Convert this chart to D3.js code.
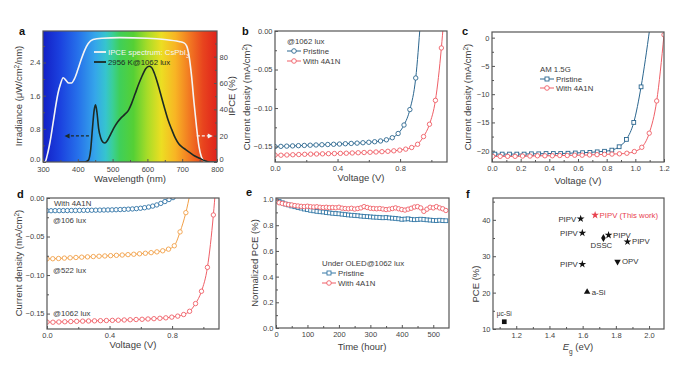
<!DOCTYPE html>
<html lang="en">
<head>
<meta charset="UTF-8">
<title>Indoor PV figure</title>
<script src="https://cdn.jsdelivr.net/npm/d3@7"></script>
<style>
	body{margin:0;background:#fff;}
	text{font-family:"Liberation Sans",Arial,sans-serif;fill:#3c3c3c;}
	.axis text{font-size:7.5px;fill:#444;}
	.axis line{stroke:#555;}
	.title{font-size:9.5px;}
	.leg{font-size:7.8px;}
	.plabel{font-size:11px;font-weight:bold;fill:#111;}
	.frame{fill:none;stroke:#555;stroke-width:1.2;}
</style>
</head>
<body>
<script>
// ---- panel a : IPCE and lamp spectrum ----
var aIpceWl = [300,306,312,320,328,335,343,350,358,366,374,382,390,400,410,420,430,444,470,520,600,650,690,705,713,720,727,734,741,748,755,762,770,800];
var aIpce   = [0,0,5,15,28,40,52,59,64,62,60,60,63,70,78,85,90,93,94,94.5,94,93,91.5,90.5,88,80,65,45,27,12,4,1,0,0];
var aSpecWl = [400,420,430,437,442,447,451,455,460,466,472,478,485,495,505,515,525,535,545,555,565,575,585,595,605,612,620,630,640,650,660,670,680,690,700,710,720,735,750,765,780,800];
var aSpec   = [0,0,0.04,0.3,0.8,1.25,1.38,1.2,0.8,0.58,0.48,0.46,0.52,0.68,0.84,0.97,1.07,1.15,1.24,1.42,1.65,1.88,2.08,2.25,2.31,2.28,2.14,1.88,1.58,1.28,1.0,0.78,0.58,0.44,0.36,0.3,0.24,0.15,0.09,0.03,0,0];

// ---- panel b / d : J-V at 1062 lux ----
var bPristineV = [0,0.0375,0.075,0.1125,0.15,0.1875,0.225,0.2625,0.3,0.3375,0.375,0.4125,0.45,0.4875,0.525,0.5625,0.6,0.6375,0.675,0.7125,0.75,0.7875,0.825,0.8625,0.9,0.93];
var bPristineJ = [-0.1500,-0.1497,-0.1494,-0.1491,-0.1488,-0.1485,-0.1482,-0.1479,-0.1476,-0.1473,-0.1470,-0.1467,-0.1463,-0.1459,-0.1455,-0.1450,-0.1444,-0.1437,-0.1427,-0.1412,-0.1385,-0.1330,-0.1220,-0.1020,-0.0610,0.012];
var bTreatedV = [0,0.038,0.076,0.114,0.152,0.19,0.228,0.266,0.304,0.342,0.38,0.418,0.456,0.494,0.532,0.57,0.608,0.646,0.684,0.722,0.76,0.798,0.836,0.874,0.912,0.95,0.988,1.026,1.064,1.078];
var bTreatedJ = [-0.1610,-0.1612,-0.1609,-0.1606,-0.1603,-0.1600,-0.1598,-0.1596,-0.1594,-0.1592,-0.1590,-0.1588,-0.1586,-0.1583,-0.1580,-0.1577,-0.1574,-0.1570,-0.1566,-0.1561,-0.1555,-0.1546,-0.1533,-0.1512,-0.1470,-0.1370,-0.1210,-0.0900,-0.0220,0.012];

// ---- panel c : J-V under AM 1.5G ----
var cPristineV = [0.02,0.071,0.122,0.173,0.224,0.275,0.326,0.377,0.428,0.479,0.53,0.581,0.632,0.683,0.734,0.785,0.836,0.887,0.938,0.989,1.04,1.1];
var cPristineJ = [-20.6,-20.6,-20.6,-20.6,-20.6,-20.55,-20.55,-20.5,-20.5,-20.5,-20.45,-20.4,-20.35,-20.3,-20.2,-20.1,-19.9,-19.3,-18.0,-15.0,-8.7,1.5];
var cTreatedV = [0.005,0.057,0.109,0.161,0.213,0.265,0.317,0.369,0.421,0.473,0.525,0.577,0.629,0.681,0.733,0.785,0.837,0.889,0.941,0.993,1.045,1.097,1.149,1.2];
var cTreatedJ = [-21.0,-21.0,-21.0,-21.0,-20.95,-20.95,-20.9,-20.9,-20.9,-20.85,-20.85,-20.8,-20.8,-20.75,-20.7,-20.65,-20.6,-20.55,-20.45,-20.15,-19.4,-16.9,-11.2,0.5];

// ---- panel d : With 4A1N at 106 and 522 lux ----
var dLowV = [0,0.026,0.052,0.078,0.104,0.13,0.156,0.182,0.208,0.234,0.26,0.286,0.312,0.338,0.364,0.39,0.416,0.442,0.468,0.494,0.52,0.546,0.572,0.598,0.624,0.65,0.676,0.702,0.728,0.754,0.78,0.806,0.832];
var dLowJ = [-0.0165,-0.0165,-0.0164,-0.0164,-0.0163,-0.0163,-0.0162,-0.0162,-0.0161,-0.0160,-0.0160,-0.0159,-0.0158,-0.0157,-0.0156,-0.0155,-0.0154,-0.0152,-0.0150,-0.0148,-0.0145,-0.0142,-0.0138,-0.0133,-0.0126,-0.0117,-0.0105,-0.0090,-0.0070,-0.0046,-0.0020,0.0005,0.004];
var dMidV = [0,0.037,0.074,0.111,0.148,0.185,0.222,0.259,0.296,0.333,0.37,0.407,0.444,0.481,0.518,0.555,0.592,0.629,0.666,0.703,0.74,0.777,0.814,0.851,0.888,0.915];
var dMidJ = [-0.0790,-0.0788,-0.0785,-0.0780,-0.0776,-0.0772,-0.0768,-0.0764,-0.0760,-0.0756,-0.0752,-0.0748,-0.0744,-0.0740,-0.0735,-0.0730,-0.0724,-0.0717,-0.0709,-0.0699,-0.0685,-0.0664,-0.0620,-0.0440,-0.0190,0.006];

// ---- panel e : stability ----
var eTime = [0,10,20,30,40,50,60,70,80,90,100,110,120,130,140,150,160,170,180,190,200,210,220,230,240,250,260,270,280,290,300,310,320,330,340,350,360,370,380,390,400,410,420,430,440,450,460,470,480,490,500,510,520,530,540];
var ePristine = [1.000,0.985,0.975,0.965,0.958,0.950,0.944,0.938,0.933,0.926,0.921,0.916,0.912,0.908,0.905,0.903,0.899,0.896,0.893,0.891,0.889,0.886,0.883,0.880,0.878,0.876,0.874,0.871,0.869,0.867,0.865,0.863,0.862,0.860,0.858,0.860,0.857,0.855,0.853,0.850,0.846,0.848,0.850,0.846,0.843,0.845,0.847,0.845,0.842,0.840,0.838,0.836,0.839,0.836,0.835];
var eTreated = [0.990,0.975,0.970,0.965,0.960,0.958,0.953,0.950,0.947,0.945,0.948,0.944,0.942,0.944,0.940,0.938,0.940,0.937,0.938,0.936,0.940,0.933,0.930,0.928,0.932,0.926,0.930,0.935,0.945,0.938,0.932,0.930,0.928,0.930,0.926,0.922,0.925,0.930,0.935,0.928,0.922,0.918,0.925,0.932,0.942,0.945,0.935,0.908,0.925,0.940,0.935,0.945,0.935,0.928,0.915];

// ---- panel f : PCE vs band gap ----
var fLabels = ['\u03bcc-Si','a-Si','PIPV','PIPV','PIPV','PIPV','PIPV','DSSC','OPV','PIPV (This work)'];
var fEg     = [1.128,1.627,1.588,1.598,1.598,1.756,1.87,1.725,1.81,1.675];
var fPce    = [12.0,20.2,40.3,36.4,27.8,35.8,34.0,35.0,28.5,41.3];
var fShape  = ['square','triangle','star','star','star','star','star','diamond','down','star'];

var colPristine = '#2b668f', colTreated = '#ef5f67', colMid = '#f2a048', colLow = '#2f73a6';

var svg = d3.select('body').append('svg').attr('width', 679).attr('height', 385);
var defs = svg.append('defs');

function makePanel(p) {
	var g = svg.append('g').attr('transform', 'translate(' + p.left + ',' + p.top + ')');
	var x = d3.scaleLinear().domain(p.xDomain).range([0, p.width]);
	var y = d3.scaleLinear().domain(p.yDomain).range([p.height, 0]);
	defs.append('clipPath').attr('id', 'clip-' + p.id)
		.append('rect').attr('width', p.width).attr('height', p.height);
	var plot = g.append('g').attr('clip-path', 'url(#clip-' + p.id + ')');

	// ticks point inward, labels sit right next to the frame
	var bx = g.append('g').attr('class', 'axis').attr('transform', 'translate(0,' + p.height + ')')
		.call(d3.axisBottom(x).tickValues(p.xTicks).tickSize(-3).tickPadding(p.xPad || 3.5).tickFormat(d3.format(p.xFmt)));
	bx.select('.domain').remove();
	var lx = g.append('g').attr('class', 'axis')
		.call(d3.axisLeft(y).tickValues(p.yTicks).tickSize(-3).tickPadding(2.5).tickFormat(d3.format(p.yFmt)));
	lx.select('.domain').remove();
	if (p.yLift) lx.selectAll('.tick text').filter(function (d) { return d === p.yDomain[0]; }).attr('dy', '-0.05em');
	if (p.xMinor) {
		g.append('g').attr('class', 'axis').attr('transform', 'translate(0,' + p.height + ')')
			.call(d3.axisBottom(x).tickValues(p.xMinor).tickSize(-2).tickFormat(''))
			.select('.domain').remove();
	}
	if (p.yMinor) {
		g.append('g').attr('class', 'axis')
			.call(d3.axisLeft(y).tickValues(p.yMinor).tickSize(-2).tickFormat(''))
			.select('.domain').remove();
	}
	g.append('rect').attr('class', 'frame').attr('width', p.width).attr('height', p.height);

	svg.append('text').attr('class', 'plabel').attr('x', p.labelX).attr('y', p.labelY).text(p.id);
	return {g: g, plot: plot, x: x, y: y};
}

function yTitle(x, y, build) {
	var t = svg.append('text').attr('class', 'title').attr('text-anchor', 'middle')
		.attr('transform', 'translate(' + x + ',' + y + ') rotate(-90)');
	build(t);
}
function xTitle(x, y, str) {
	return svg.append('text').attr('class', 'title').attr('text-anchor', 'middle').attr('x', x).attr('y', y).text(str);
}
function unitTitle(t, pre, sup, post) {
	t.append('tspan').text(pre);
	t.append('tspan').attr('baseline-shift', 'super').attr('font-size', '6.5px').text(sup);
	t.append('tspan').text(post);
}

function zip(xs, ys) { return xs.map(function (v, i) { return [v, ys[i]]; }); }

function series(panel, xs, ys, color, marker) {
	var pts = zip(xs, ys);
	var line = d3.line().curve(d3.curveMonotoneX)
		.x(function (d) { return panel.x(d[0]); })
		.y(function (d) { return panel.y(d[1]); });
	panel.plot.append('path').datum(pts).attr('d', line)
		.attr('fill', 'none').attr('stroke', color).attr('stroke-width', 1);
	var sel = panel.plot.selectAll(null).data(pts).enter();
	if (marker === 'square') {
		sel.append('rect').attr('x', function (d) { return panel.x(d[0]) - 1.9; })
			.attr('y', function (d) { return panel.y(d[1]) - 1.9; })
			.attr('width', 3.8).attr('height', 3.8)
			.attr('fill', '#fff').attr('stroke', color).attr('stroke-width', 0.9);
	} else {
		sel.append('circle').attr('cx', function (d) { return panel.x(d[0]); })
			.attr('cy', function (d) { return panel.y(d[1]); })
			.attr('r', 2.2).attr('fill', '#fff').attr('stroke', color).attr('stroke-width', 0.9);
	}
}

function legendRow(x, y, color, marker, label) {
	svg.append('line').attr('x1', x).attr('x2', x + 14).attr('y1', y).attr('y2', y)
		.attr('stroke', color).attr('stroke-width', 1);
	if (marker === 'square') {
		svg.append('rect').attr('x', x + 5).attr('y', y - 2).attr('width', 4).attr('height', 4)
			.attr('fill', '#fff').attr('stroke', color).attr('stroke-width', 0.9);
	} else {
		svg.append('circle').attr('cx', x + 7).attr('cy', y).attr('r', 2.3)
			.attr('fill', '#fff').attr('stroke', color).attr('stroke-width', 0.9);
	}
	svg.append('text').attr('class', 'leg').attr('x', x + 16).attr('y', y + 2.8).text(label);
}

// ================= panel a =================
var pa = makePanel({id: 'a', left: 43, top: 31, width: 174, height: 131,
	xDomain: [300, 800], yDomain: [0, 3.16], xPad: 5, yLift: true,
	xTicks: [300, 400, 500, 600, 700, 800], xMinor: [350, 450, 550, 650, 750], xFmt: 'd',
	yTicks: [0, 0.8, 1.6, 2.4], yMinor: [0.4, 1.2, 2.0, 2.8], yFmt: '.1f',
	labelX: 19, labelY: 35});
var aRight = d3.scaleLinear().domain([0, 99.5]).range([131, 0]);

var grad = defs.append('linearGradient').attr('id', 'spectrum').attr('x1', '0%').attr('x2', '100%');
[[0, '#1320c6'], [0.1, '#1b42df'], [0.2, '#2670ea'], [0.3, '#35a6ea'], [0.36, '#36c4cf'],
 [0.4, '#3acf98'], [0.44, '#3fcf5a'], [0.52, '#55d035'], [0.6, '#a8dc28'], [0.68, '#ecde22'],
 [0.76, '#f8b524'], [0.84, '#f27a22'], [0.92, '#e8441e'], [1, '#e0231c']].forEach(function (s) {
	grad.append('stop').attr('offset', s[0]).attr('stop-color', s[1]);
});
pa.plot.append('rect').attr('width', 174).attr('height', 131).attr('fill', 'url(#spectrum)');

pa.plot.append('path').datum(zip(aIpceWl, aIpce))
	.attr('d', d3.line().curve(d3.curveMonotoneX).x(function (d) { return pa.x(d[0]); }).y(function (d) { return aRight(d[1]); }))
	.attr('fill', 'none').attr('stroke', '#f4f4f4').attr('stroke-width', 1.6);
pa.plot.append('path').datum(zip(aSpecWl, aSpec))
	.attr('d', d3.line().curve(d3.curveMonotoneX).x(function (d) { return pa.x(d[0]); }).y(function (d) { return pa.y(d[1]); }))
	.attr('fill', 'none').attr('stroke', '#1c2a24').attr('stroke-width', 1.6);

// dashed arrows pointing to each axis
var arrowL = {from: [432, 0.63], to: [362, 0.63]};
var arrowR = {from: [742, 0.63], to: [788, 0.63]};
[[arrowL, '#1c2a24'], [arrowR, '#f4f4f4']].forEach(function (a) {
	var x1 = pa.x(a[0].from[0]), x2 = pa.x(a[0].to[0]), yy = pa.y(a[0].from[1]);
	var dir = x2 < x1 ? 1 : -1;
	pa.plot.append('line').attr('x1', x1).attr('x2', x2 + dir * 4).attr('y1', yy).attr('y2', yy)
		.attr('stroke', a[1]).attr('stroke-width', 1.4).attr('stroke-dasharray', '3,2');
	pa.plot.append('path').attr('d', 'M' + x2 + ',' + yy + 'L' + (x2 + dir * 5) + ',' + (yy - 2.5) + 'L' + (x2 + dir * 5) + ',' + (yy + 2.5) + 'Z')
		.attr('fill', a[1]);
});

var ra = pa.g.append('g').attr('class', 'axis').attr('transform', 'translate(174,0)')
	.call(d3.axisRight(aRight).tickValues([0, 20, 40, 60, 80]).tickSize(-3).tickPadding(2.5).tickFormat(d3.format('d')));
ra.select('.domain').remove();
ra.selectAll('.tick text').filter(function (d) { return d === 0; }).attr('dy', '-0.05em');
pa.g.append('g').attr('class', 'axis').attr('transform', 'translate(174,0)')
	.call(d3.axisRight(aRight).tickValues([10, 30, 50, 70, 90]).tickSize(-2).tickFormat('')).select('.domain').remove();

svg.append('line').attr('x1', 94).attr('x2', 106).attr('y1', 52).attr('y2', 52).attr('stroke', '#f4f4f4').attr('stroke-width', 1.8);
var la = svg.append('text').attr('class', 'leg').attr('x', 108).attr('y', 55).style('fill', '#f4f4f4');
la.append('tspan').text('IPCE spectrum: CsPbI');
la.append('tspan').attr('baseline-shift', 'sub').attr('font-size', '5.5px').text('3');
svg.append('line').attr('x1', 94).attr('x2', 106).attr('y1', 62).attr('y2', 62).attr('stroke', '#1c2a24').attr('stroke-width', 1.8);
svg.append('text').attr('class', 'leg').attr('x', 108).attr('y', 65).style('fill', '#1c2a24').text('2956 K@1062 lux');

yTitle(22, 96, function (t) { unitTitle(t, 'Irradiance (\u03bcW/cm', '2', '/nm)'); });
yTitle(235, 96, function (t) { t.text('IPCE (%)'); });
xTitle(130, 182, 'Wavelength (nm)');

// ================= panel b =================
var pb = makePanel({id: 'b', left: 275, top: 31, width: 172, height: 131,
	xDomain: [0, 1.1], yDomain: [-0.17, 0],
	xTicks: [0, 0.4, 0.8], xMinor: [0.2, 0.6, 1.0], xFmt: '.1f',
	yTicks: [0, -0.05, -0.1, -0.15], yMinor: [-0.025, -0.075, -0.125], yFmt: '.2f',
	labelX: 242, labelY: 35});
series(pb, bPristineV, bPristineJ, colPristine, 'circle');
series(pb, bTreatedV, bTreatedJ, colTreated, 'circle');
svg.append('text').attr('class', 'leg').attr('x', 287).attr('y', 44).text('@1062 lux');
legendRow(287, 51, colPristine, 'circle', 'Pristine');
legendRow(287, 61, colTreated, 'circle', 'With 4A1N');
yTitle(250, 97, function (t) { unitTitle(t, 'Current density (mA/cm', '2', ')'); });
xTitle(361, 181, 'Voltage (V)');

// ================= panel c =================
var pc = makePanel({id: 'c', left: 492, top: 32, width: 172, height: 130,
	xDomain: [0, 1.2], yDomain: [-22, 1],
	xTicks: [0, 0.2, 0.4, 0.6, 0.8, 1.0, 1.2], xMinor: [0.1, 0.3, 0.5, 0.7, 0.9, 1.1], xFmt: '.1f',
	yTicks: [0, -5, -10, -15, -20], yMinor: [-2.5, -7.5, -12.5, -17.5], yFmt: 'd',
	labelX: 462, labelY: 35});
series(pc, cPristineV, cPristineJ, colPristine, 'square');
series(pc, cTreatedV, cTreatedJ, colTreated, 'circle');
svg.append('text').attr('class', 'leg').attr('x', 540).attr('y', 72).text('AM 1.5G');
legendRow(540, 79, colPristine, 'square', 'Pristine');
legendRow(540, 88, colTreated, 'circle', 'With 4A1N');
yTitle(471, 97, function (t) { unitTitle(t, 'Current density (mA/cm', '2', ')'); });
xTitle(578, 184, 'Voltage (V)');

// ================= panel d =================
var pd = makePanel({id: 'd', left: 47, top: 198, width: 172, height: 131,
	xDomain: [0, 1.1], yDomain: [-0.17, 0],
	xTicks: [0, 0.4, 0.8], xMinor: [0.2, 0.6, 1.0], xFmt: '.1f',
	yTicks: [0, -0.05, -0.1, -0.15], yMinor: [-0.025, -0.075, -0.125], yFmt: '.2f',
	labelX: 17, labelY: 198});
series(pd, dLowV, dLowJ, colLow, 'circle');
series(pd, dMidV, dMidJ, colMid, 'circle');
series(pd, bTreatedV, bTreatedJ, colTreated, 'circle');
svg.append('text').attr('class', 'leg').attr('x', 54).attr('y', 206).text('With 4A1N');
svg.append('text').attr('class', 'leg').attr('x', 53).attr('y', 223).text('@106 lux');
svg.append('text').attr('class', 'leg').attr('x', 53).attr('y', 273).text('@522 lux');
svg.append('text').attr('class', 'leg').attr('x', 53).attr('y', 316).text('@1062 lux');
yTitle(22, 263, function (t) { unitTitle(t, 'Current density (mA/cm', '2', ')'); });
xTitle(133, 348, 'Voltage (V)');

// ================= panel e =================
var pe = makePanel({id: 'e', left: 276, top: 198, width: 173, height: 130,
	xDomain: [0, 550], yDomain: [0, 1.012],
	xTicks: [0, 100, 200, 300, 400, 500], xMinor: [50, 150, 250, 350, 450], xFmt: 'd',
	yTicks: [0, 0.2, 0.4, 0.6, 0.8, 1.0], yMinor: [0.1, 0.3, 0.5, 0.7, 0.9], yFmt: '.1f',
	labelX: 246, labelY: 196});
series(pe, eTime, ePristine, '#3478a6', 'square');
series(pe, eTime, eTreated, colTreated, 'circle');
svg.append('text').attr('class', 'leg').attr('x', 322).attr('y', 266).text('Under OLED@1062 lux');
legendRow(322, 273, '#3478a6', 'square', 'Pristine');
legendRow(322, 283, colTreated, 'circle', 'With 4A1N');
yTitle(258, 263, function (t) { t.text('Normalized PCE (%)'); });
xTitle(362, 350, 'Time (hour)');

// ================= panel f =================
var pf = makePanel({id: 'f', left: 493, top: 198, width: 171, height: 131,
	xDomain: [1.06, 2.09], yDomain: [10, 46],
	xTicks: [1.2, 1.4, 1.6, 1.8, 2.0], xMinor: [1.1, 1.3, 1.5, 1.7, 1.9], xFmt: '.1f',
	yTicks: [10, 20, 30, 40], yMinor: [15, 25, 35, 45], yFmt: 'd',
	labelX: 466, labelY: 198});
var shapes = {square: d3.symbolSquare, triangle: d3.symbolTriangle, star: d3.symbolStar, diamond: d3.symbolDiamond, down: d3.symbolTriangle};
var sizes = {square: 22, triangle: 18, star: 19, diamond: 18, down: 18};
var fLabelSide = ['above', 'right', 'left', 'left', 'left', 'right', 'right', 'below', 'right', 'right'];
fEg.forEach(function (eg, i) {
	var px = pf.x(eg), py = pf.y(fPce[i]);
	var col = i === fEg.length - 1 ? '#e8434f' : '#111';
	var txtCol = i === fEg.length - 1 ? '#e8434f' : '#333';
	svg.append('path').attr('d', d3.symbol().type(shapes[fShape[i]]).size(sizes[fShape[i]])())
		.attr('transform', 'translate(' + (493 + px) + ',' + (198 + py) + ')' + (fShape[i] === 'down' ? ' rotate(180)' : ''))
		.attr('fill', col);
	var t = svg.append('text').attr('class', 'leg').style('fill', txtCol).text(fLabels[i]);
	var side = fLabelSide[i];
	if (side === 'right') t.attr('x', 493 + px + 4.5).attr('y', 198 + py + 2.8);
	else if (side === 'left') t.attr('x', 493 + px - 4.5).attr('y', 198 + py + 2.8).attr('text-anchor', 'end');
	else if (side === 'above') t.attr('x', 493 + px).attr('y', 198 + py - 6).attr('text-anchor', 'middle').style('font-size', '6.5px');
	else t.attr('x', 493 + px - 2).attr('y', 198 + py + 10).attr('text-anchor', 'middle');
});
yTitle(479, 284, function (t) { t.text('PCE (%)'); });
var fx = svg.append('text').attr('class', 'title').attr('text-anchor', 'middle').attr('x', 578).attr('y', 350);
fx.append('tspan').attr('font-style', 'italic').text('E');
fx.append('tspan').attr('baseline-shift', 'sub').attr('font-size', '6.5px').text('g');
fx.append('tspan').text(' (eV)');
</script>
</body>
</html>
